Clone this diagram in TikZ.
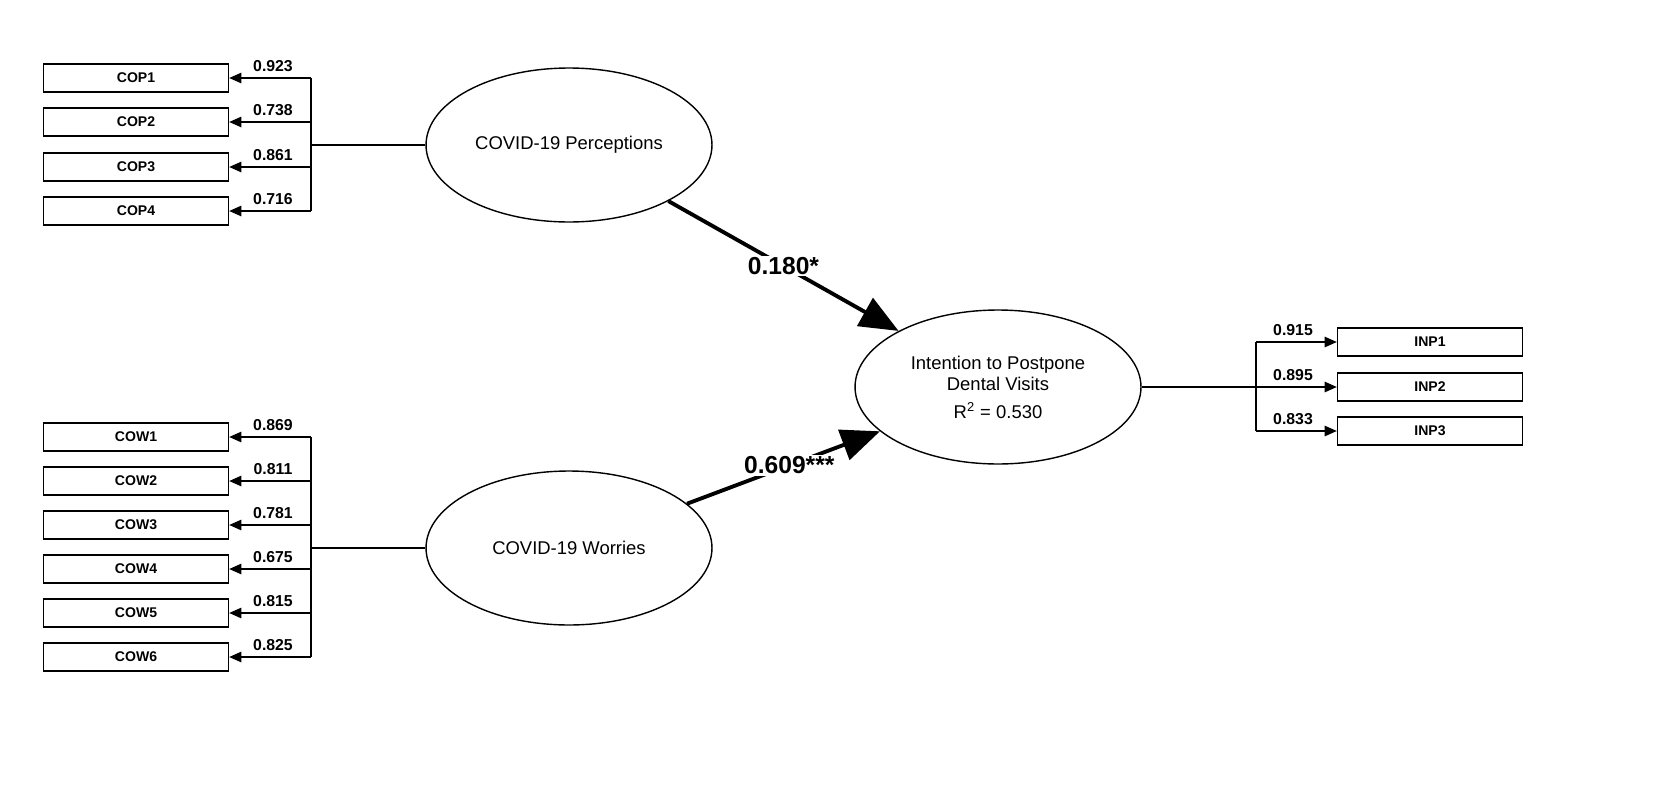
\documentclass[tikz,border=0pt]{standalone}
\usepackage{fontspec}
\setmainfont{Liberation Sans}
\usetikzlibrary{arrows.meta}
\begin{document}
\begin{tikzpicture}[x=0.02cm,y=-0.02cm,
  ind/.style={draw,thick,minimum width=3.7cm,minimum height=0.56cm,inner sep=0pt,font=\fontsize{8}{9}\selectfont\bfseries},
  lat/.style={draw,thick,ellipse,minimum width=5.72cm,minimum height=3.08cm,inner sep=0pt,font=\fontsize{10.5}{12.5}\selectfont,align=center},
  ld/.style={font=\fontsize{9}{10}\selectfont\bfseries,anchor=south},
  ar/.style={-{Triangle[length=7pt,width=6pt]}},
  pa/.style={line width=2.2pt,-{Triangle[length=22pt,width=18pt]}},
  pl/.style={font=\fontsize{14}{16}\selectfont\bfseries,fill=white,inner sep=1pt}]
\usetikzlibrary{shapes.geometric}
\path[use as bounding box] (0,0) rectangle (1669,788);
% latent
\node[lat] (cop) at (569,145) {COVID-19 Perceptions};
\node[lat] (cow) at (569,548) {COVID-19 Worries};
\node[lat] (inp) at (998,387) {Intention to Postpone\\Dental Visits\\[3pt]R\textsuperscript{2} = 0.530};
% COP
\coordinate (jc) at (311,145);
\draw[thick] (cop.west) -- (jc);
\foreach \n/\y/\v in {1/78/0.923,2/122/0.738,3/167/0.861,4/211/0.716}{
  \node[ind] (COP\n) at (136,\y) {COP\n};
  \coordinate (c\n) at (311,\y);
  \draw[thick,ar] (c\n) -- (COP\n.east);
  \node[ld] at (273,\y) {\v};
}
\draw[thick] (c1) -- (c4);
% COW
\coordinate (jw) at (311,548);
\draw[thick] (cow.west) -- (jw);
\foreach \n/\y/\v in {1/437/0.869,2/481/0.811,3/525/0.781,4/569/0.675,5/613/0.815,6/657/0.825}{
  \node[ind] (COW\n) at (136,\y) {COW\n};
  \coordinate (w\n) at (311,\y);
  \draw[thick,ar] (w\n) -- (COW\n.east);
  \node[ld] at (273,\y) {\v};
}
\draw[thick] (w1) -- (w6);
% INP
\coordinate (ji) at (1256,387);
\draw[thick] (inp.east) -- (ji);
\foreach \n/\y/\v in {1/342/0.915,2/387/0.895,3/431/0.833}{
  \node[ind] (INP\n) at (1430,\y) {INP\n};
  \coordinate (i\n) at (1256,\y);
  \draw[thick,ar] (i\n) -- (INP\n.west);
  \node[ld] at (1293,\y) {\v};
}
\draw[thick] (i1) -- (i3);
% paths
\draw[pa] (cop) -- (inp) node[pl,pos=0.5] {0.180*};
\draw[pa] (cow) -- (inp) node[pl,pos=0.53] {0.609***};
\end{tikzpicture}
\end{document}
